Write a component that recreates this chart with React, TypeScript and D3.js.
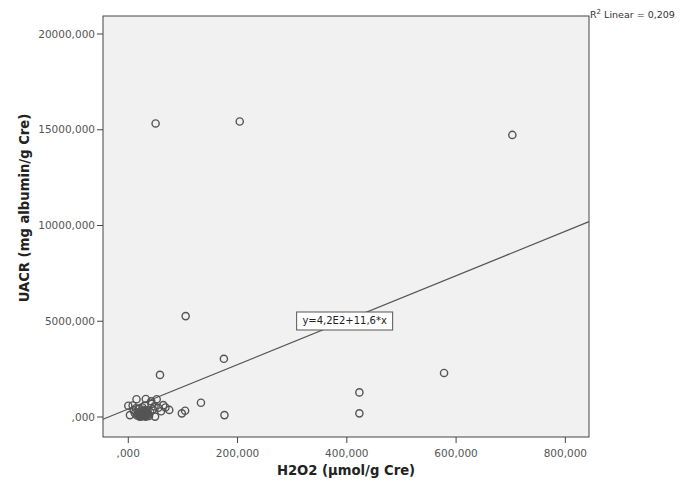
import React from "react";
import * as d3 from "d3";

// H2O2 (µmol/g Cre) vs UACR (mg albumin/g Cre)
const h2o2 = [
  50, 204, 703, 105, 175, 58, 578, 423, 423, 133, 176, 98, 104,
  15, 32, 52, 0, 43, 64, 75, 3, 49,
  18, 22, 25, 28, 30, 33, 35, 38, 20, 26, 40, 45, 12, 16, 24, 36,
  30, 55, 60, 42, 68, 10, 8, 48, 27, 21, 32, 14,
  19, 23, 27, 29, 31, 34, 17, 25, 37, 22, 28, 33,
];
const uacr = [
  15330, 15430, 14730, 5270, 3040, 2200, 2300, 1285, 190, 745, 100, 190, 330,
  930, 940, 930, 590, 680, 620, 370, 100, 20,
  250, 150, 60, 300, 200, 100, 350, 50, 420, 500, 250, 400, 200, 80, 30, 180,
  600, 480, 300, 820, 500, 350, 600, 560, 380, 10, 20, 460,
  120, 220, 140, 60, 260, 170, 160, 90, 120, 40, 230, 300,
];
const xTicks = [0, 200, 400, 600, 800];
const yTicks = [0, 5000, 10000, 15000, 20000];
const intercept = 420;
const slope = 11.6;
const equationLabel = "y=4,2E2+11,6*x";
const r2Label = "0,209";

const W = 684;
const H = 482;
const left = 103;
const right = 589;
const top = 16;
const bottom = 437;

const fmt = (v: number) => `${v === 0 ? "" : v},000`;

export default function App() {
  const x = d3.scaleLinear().domain([-46.3, 843.3]).range([left, right]);
  const y = d3.scaleLinear().domain([-1044, 20940]).range([bottom, top]);
  const [x0, x1] = x.domain();
  const fit = (v: number) => intercept + slope * v;
  const line = d3
    .line<number>()
    .x((d) => x(d))
    .y((d) => y(fit(d)));
  const eqX = 396;
  const font = "'DejaVu Sans', Verdana, sans-serif";

  return (
    <svg
      width={W}
      height={H}
      style={{ position: "absolute", left: 0, top: 0, background: "#fff" }}
      fontFamily={font}
    >
      <rect
        x={left}
        y={top}
        width={right - left}
        height={bottom - top}
        fill="#f1f1f1"
        stroke="#444"
        strokeWidth={1}
      />
      <path d={line([x0, x1]) || ""} fill="none" stroke="#555" strokeWidth={1.2} />
      {h2o2.map((v, i) => (
        <circle
          key={i}
          cx={x(v)}
          cy={y(uacr[i])}
          r={3.6}
          fill="none"
          stroke="#555"
          strokeWidth={1.4}
        />
      ))}
      <g>
        <rect
          x={x(eqX) - 48}
          y={y(fit(eqX)) - 9}
          width={96}
          height={18}
          fill="#fff"
          stroke="#555"
          strokeWidth={1}
        />
        <text
          x={x(eqX)}
          y={y(fit(eqX))}
          dy="0.35em"
          textAnchor="middle"
          fontSize={10}
          fill="#222"
        >
          {equationLabel}
        </text>
      </g>
      {yTicks.map((t) => (
        <g key={t}>
          <line x1={left - 6} x2={left} y1={y(t)} y2={y(t)} stroke="#444" />
          <text
            x={left - 8}
            y={y(t)}
            dy="0.35em"
            textAnchor="end"
            fontSize={10.5}
            fill="#555"
          >
            {fmt(t)}
          </text>
        </g>
      ))}
      {xTicks.map((t) => (
        <g key={t}>
          <line x1={x(t)} x2={x(t)} y1={bottom} y2={bottom + 6} stroke="#444" />
          <text
            x={x(t)}
            y={bottom + 16}
            dy="0.35em"
            textAnchor="middle"
            fontSize={10.5}
            fill="#555"
          >
            {fmt(t)}
          </text>
        </g>
      ))}
      <text
        x={(left + right) / 2}
        y={470}
        dy="0.35em"
        textAnchor="middle"
        fontSize={13.2}
        fontWeight="bold"
        fill="#222"
      >
        H2O2 (µmol/g Cre)
      </text>
      <text
        transform={`translate(24,208) rotate(-90)`}
        dy="0.35em"
        textAnchor="middle"
        fontSize={13.2}
        fontWeight="bold"
        fill="#222"
      >
        UACR (mg albumin/g Cre)
      </text>
      <text x={590} y={18} fontSize={9.5} fill="#333">
        R<tspan dy={-4} fontSize={7}>2</tspan>
        <tspan dy={4}> Linear = {r2Label}</tspan>
      </text>
    </svg>
  );
}
